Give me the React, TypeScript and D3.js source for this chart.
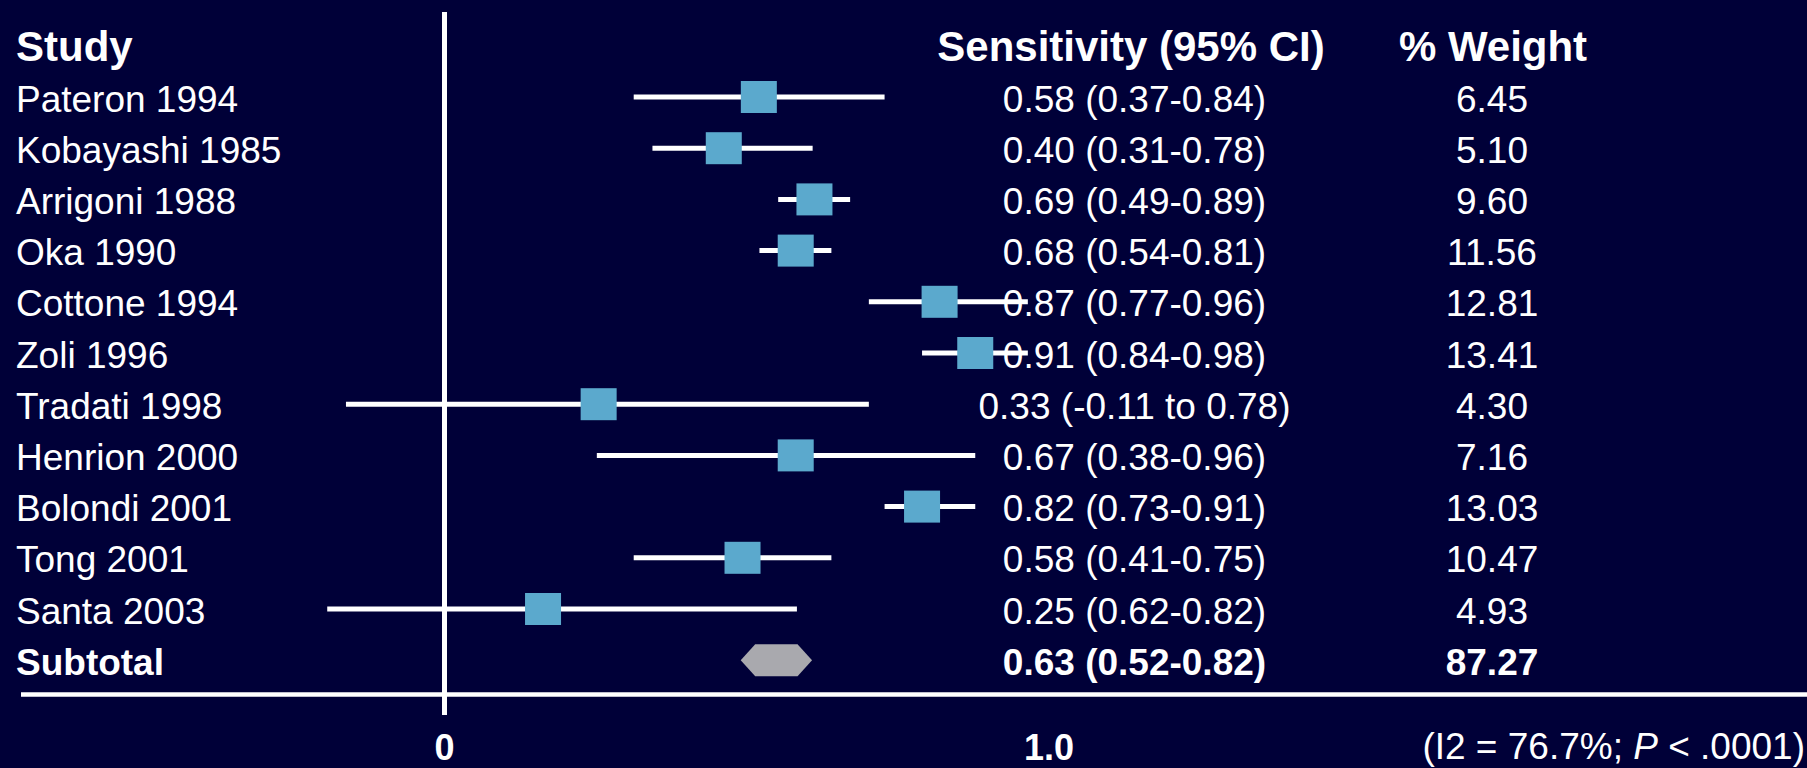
import * as d3 from "d3";

// studies, plotted point + CI ends as they sit on the picture's 0..1.0 axis
const studies = [
  "Pateron 1994",
  "Kobayashi 1985",
  "Arrigoni 1988",
  "Oka 1990",
  "Cottone 1994",
  "Zoli 1996",
  "Tradati 1998",
  "Henrion 2000",
  "Bolondi 2001",
  "Tong 2001",
  "Santa 2003",
];
const estimates = [0.52, 0.462, 0.612, 0.581, 0.819, 0.878, 0.255, 0.581, 0.79, 0.493, 0.163];
const lower = [0.313, 0.344, 0.552, 0.521, 0.702, 0.79, -0.163, 0.252, 0.728, 0.313, -0.194];
const upper = [0.728, 0.609, 0.671, 0.64, 0.965, 0.965, 0.702, 0.878, 0.878, 0.64, 0.583];
const sensLabels = [
  "0.58 (0.37-0.84)",
  "0.40 (0.31-0.78)",
  "0.69 (0.49-0.89)",
  "0.68 (0.54-0.81)",
  "0.87 (0.77-0.96)",
  "0.91 (0.84-0.98)",
  "0.33 (-0.11 to 0.78)",
  "0.67 (0.38-0.96)",
  "0.82 (0.73-0.91)",
  "0.58 (0.41-0.75)",
  "0.25 (0.62-0.82)",
];
const weights = ["6.45", "5.10", "9.60", "11.56", "12.81", "13.41", "4.30", "7.16", "13.03", "10.47", "4.93"];

// pooled row
const subtotal = { label: "Subtotal", est: 0.55, lo: 0.49, hi: 0.608, text: "0.63 (0.52-0.82)", weight: "87.27" };

const axisTicks = [0, 1];
const axisTickLabels = ["0", "1.0"];

const W = 1807;
const H = 768;
const BG = "#000038";
const BOX = "#5BA9CD";
const FONT = "'Liberation Sans', Arial, sans-serif";

export default function App() {
  const x = d3.scaleLinear().domain([0, 1]).range([444.5, 1049]);
  const y = d3.scaleLinear().domain([0, studies.length]).range([97, 660.2]);

  const rows = studies.map((s, i) => ({
    name: s,
    est: estimates[i],
    lo: lower[i],
    hi: upper[i],
    sens: sensLabels[i],
    w: weights[i],
    cy: y(i),
  }));

  const subY = y(studies.length);
  const inset = 14.5;
  const hexH = 16;
  const hex = d3.line()([
    [x(subtotal.lo), subY],
    [x(subtotal.lo) + inset, subY - hexH],
    [x(subtotal.hi) - inset, subY - hexH],
    [x(subtotal.hi), subY],
    [x(subtotal.hi) - inset, subY + hexH],
    [x(subtotal.lo) + inset, subY + hexH],
  ]) + "Z";

  const sensX = 1134.5;
  const weightX = 1492;
  const textOff = 14.5;

  return (
    <svg
      width={W}
      height={H}
      style={{ position: "absolute", left: 0, top: 0, display: "block" }}
      fontFamily={FONT}
    >
      <rect width={W} height={H} fill={BG} />

      {/* headers */}
      <g fill="#fff" fontWeight="bold" fontSize={42}>
        <text x={16} y={y(-1) + 15}>Study</text>
        <text x={1131} y={y(-1) + 15} textAnchor="middle">Sensitivity (95% CI)</text>
        <text x={1493} y={y(-1) + 15} textAnchor="middle">% Weight</text>
      </g>

      {/* zero line + baseline */}
      <line x1={x(0)} x2={x(0)} y1={12} y2={715} stroke="#fff" strokeWidth={5} />
      <line x1={21} x2={W} y1={694.5} y2={694.5} stroke="#fff" strokeWidth={4.5} />

      {/* CI lines */}
      <g stroke="#fff" strokeWidth={5}>
        {rows.map((r) => (
          <line key={r.name} x1={x(r.lo)} x2={x(r.hi)} y1={r.cy} y2={r.cy} />
        ))}
      </g>

      {/* boxes */}
      <g fill={BOX}>
        {rows.map((r) => (
          <rect key={r.name} x={x(r.est) - 18} y={r.cy - 16} width={36} height={32} />
        ))}
      </g>

      <path d={hex} fill="#A9A9AE" />

      {/* row texts */}
      <g fill="#fff" fontSize={37}>
        {rows.map((r) => (
          <g key={r.name}>
            <text x={16} y={r.cy + textOff}>{r.name}</text>
            <text x={sensX} y={r.cy + textOff} textAnchor="middle">{r.sens}</text>
            <text x={weightX} y={r.cy + textOff} textAnchor="middle">{r.w}</text>
          </g>
        ))}
        <g fontWeight="bold">
          <text x={16} y={subY + textOff}>{subtotal.label}</text>
          <text x={sensX} y={subY + textOff} textAnchor="middle">{subtotal.text}</text>
          <text x={weightX} y={subY + textOff} textAnchor="middle">{subtotal.weight}</text>
        </g>
      </g>

      {/* axis labels */}
      <g fill="#fff" fontSize={36} fontWeight="bold" textAnchor="middle">
        {axisTicks.map((t, i) => (
          <text key={t} x={x(t)} y={760}>{axisTickLabels[i]}</text>
        ))}
      </g>

      <text x={1805} y={759} fill="#fff" fontSize={37} textAnchor="end">
        (I2 = 76.7%; <tspan fontStyle="italic">P</tspan> &lt; .0001)
      </text>
    </svg>
  );
}
